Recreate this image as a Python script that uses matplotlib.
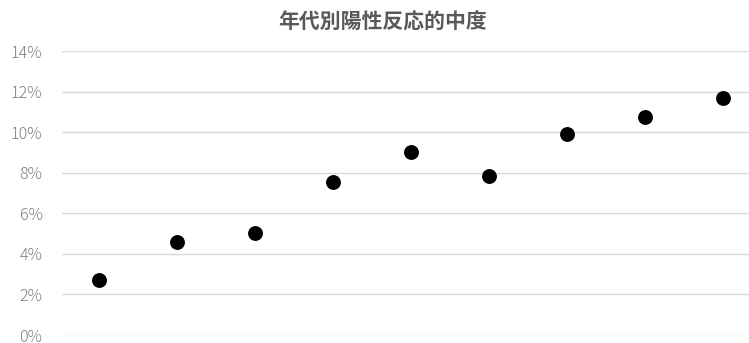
import matplotlib.pyplot as plt
from matplotlib.ticker import FuncFormatter

plt.rcParams['font.family'] = ['Noto Sans CJK JP', 'DejaVu Sans']

# age groups (x positions only, labels are not shown) and PPV values
groups = [1, 2, 3, 4, 5, 6, 7, 8, 9]
ppv = [0.0271, 0.0458, 0.0503, 0.0754, 0.0902, 0.0784, 0.0991, 0.1075, 0.1168]
title = '年代別陽性反応的中度'

fig = plt.figure(figsize=(7.49, 3.43), dpi=100)
ax = fig.add_axes([62 / 749, 8 / 343, 687 / 749, 284 / 343])

ax.scatter(groups, ppv, s=115, color='black', zorder=3, linewidths=0)

ax.set_ylim(0, 0.14)
ax.set_yticks([i * 0.02 for i in range(8)])
ax.yaxis.set_major_formatter(FuncFormatter(lambda v, p: f'{round(v * 100)}%'))
ax.set_xlim(0.526, 9.33)
ax.set_xticks([])

ax.grid(axis='y', color='#d9d9d9', linewidth=1)
ax.set_axisbelow(True)
for s in ax.spines.values():
    s.set_visible(False)
ax.tick_params(axis='y', length=0, pad=14, labelsize=11.5, labelcolor='#7f7f7f')
for lbl in ax.get_yticklabels():
    lbl.set_fontweight('light')

fig.text(383 / 749, 1 - 22 / 343, title, ha='center', va='center',
         fontsize=15, fontweight='bold', color='#595959')

fig.savefig('out.png', dpi=100)
